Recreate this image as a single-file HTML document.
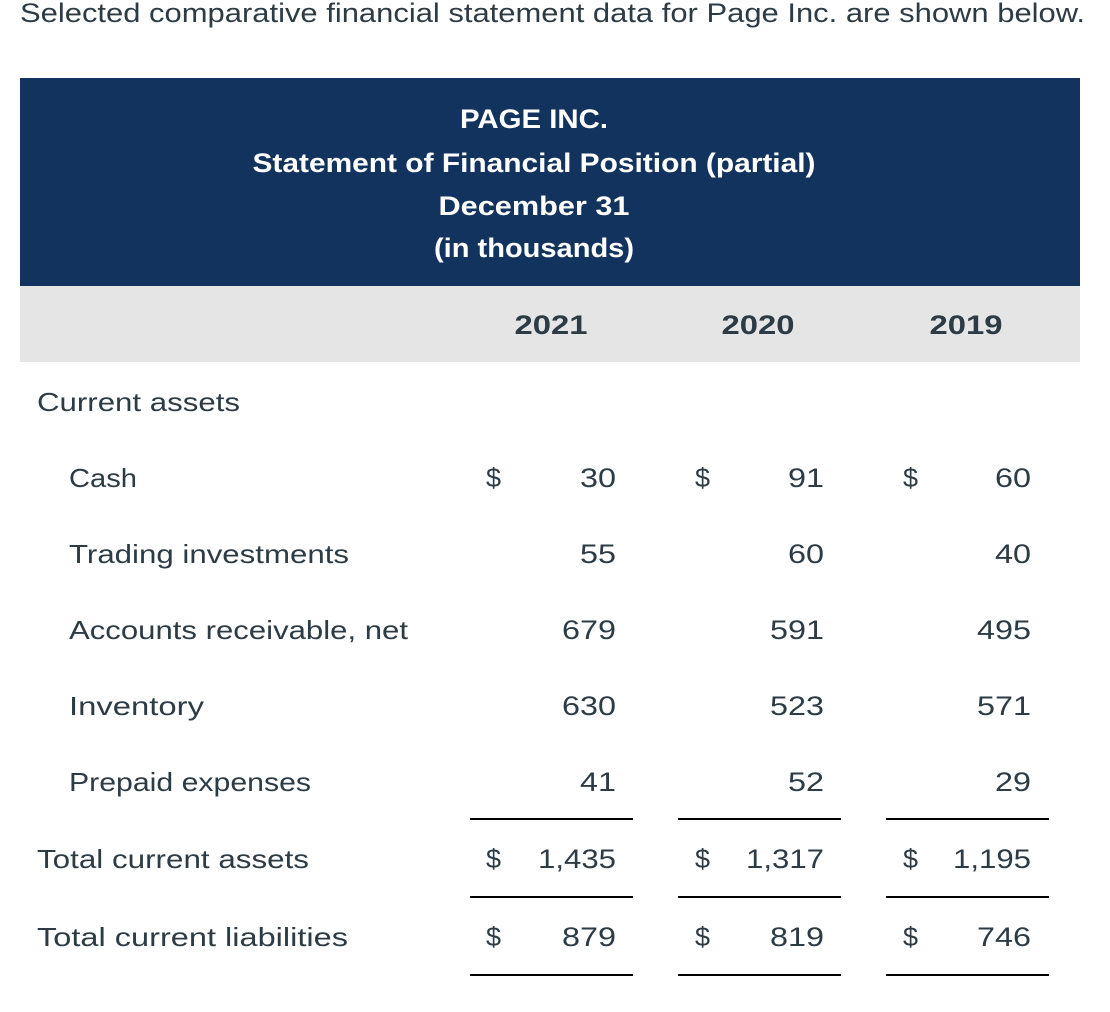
<!DOCTYPE html>
<html><head><meta charset="utf-8"><style>
html,body{margin:0;padding:0;background:#fff;}
svg{display:block;font-family:"Liberation Sans",sans-serif;}
</style></head><body>
<svg width="1110" height="1012" viewBox="0 0 1110 1012">
<text x="20" y="22" font-size="27" fill="#2d3b45" textLength="1065" lengthAdjust="spacingAndGlyphs">Selected comparative financial statement data for Page Inc. are shown below.</text>
<rect x="20" y="78" width="1060" height="208" fill="#13335f"/>
<g fill="#fff" font-size="27" font-weight="bold" text-anchor="middle">
<text x="534" y="128" textLength="148" lengthAdjust="spacingAndGlyphs">PAGE INC.</text>
<text x="534" y="172" textLength="563" lengthAdjust="spacingAndGlyphs">Statement of Financial Position (partial)</text>
<text x="534" y="215" textLength="191" lengthAdjust="spacingAndGlyphs">December 31</text>
<text x="534" y="257" textLength="200" lengthAdjust="spacingAndGlyphs">(in thousands)</text>
</g>
<rect x="20" y="286" width="1060" height="76" fill="#e5e5e5"/>
<g fill="#2d3b45" font-size="27" font-weight="bold" text-anchor="middle">
<text x="551" y="334" textLength="73" lengthAdjust="spacingAndGlyphs">2021</text>
<text x="758" y="334" textLength="73" lengthAdjust="spacingAndGlyphs">2020</text>
<text x="966" y="334" textLength="73" lengthAdjust="spacingAndGlyphs">2019</text>
</g>
<g fill="#2d3b45" font-size="26">
<text x="37" y="411" textLength="203" lengthAdjust="spacingAndGlyphs">Current assets</text>
<text x="69" y="487" textLength="68" lengthAdjust="spacingAndGlyphs">Cash</text>
<text x="69" y="563" textLength="280" lengthAdjust="spacingAndGlyphs">Trading investments</text>
<text x="69" y="639" textLength="339" lengthAdjust="spacingAndGlyphs">Accounts receivable, net</text>
<text x="69" y="715" textLength="135" lengthAdjust="spacingAndGlyphs">Inventory</text>
<text x="69" y="791" textLength="242" lengthAdjust="spacingAndGlyphs">Prepaid expenses</text>
<text x="37" y="868" textLength="272" lengthAdjust="spacingAndGlyphs">Total current assets</text>
<text x="37" y="946" textLength="311" lengthAdjust="spacingAndGlyphs">Total current liabilities</text>
</g>
<g fill="#2d3b45" font-size="27" text-anchor="end">
<text x="501" y="487">$</text>
<text x="710" y="487">$</text>
<text x="918" y="487">$</text>
<text x="501" y="868">$</text>
<text x="710" y="868">$</text>
<text x="918" y="868">$</text>
<text x="501" y="946">$</text>
<text x="710" y="946">$</text>
<text x="918" y="946">$</text>
</g>
<g fill="#2d3b45" font-size="27" text-anchor="end" lengthAdjust="spacingAndGlyphs">
<text x="616" y="487" textLength="36" lengthAdjust="spacingAndGlyphs">30</text>
<text x="616" y="563" textLength="36" lengthAdjust="spacingAndGlyphs">55</text>
<text x="616" y="639" textLength="54" lengthAdjust="spacingAndGlyphs">679</text>
<text x="616" y="715" textLength="54" lengthAdjust="spacingAndGlyphs">630</text>
<text x="616" y="791" textLength="36" lengthAdjust="spacingAndGlyphs">41</text>
<text x="616" y="868" textLength="78" lengthAdjust="spacingAndGlyphs">1,435</text>
<text x="616" y="946" textLength="54" lengthAdjust="spacingAndGlyphs">879</text>
<text x="824" y="487" textLength="36" lengthAdjust="spacingAndGlyphs">91</text>
<text x="824" y="563" textLength="36" lengthAdjust="spacingAndGlyphs">60</text>
<text x="824" y="639" textLength="54" lengthAdjust="spacingAndGlyphs">591</text>
<text x="824" y="715" textLength="54" lengthAdjust="spacingAndGlyphs">523</text>
<text x="824" y="791" textLength="36" lengthAdjust="spacingAndGlyphs">52</text>
<text x="824" y="868" textLength="78" lengthAdjust="spacingAndGlyphs">1,317</text>
<text x="824" y="946" textLength="54" lengthAdjust="spacingAndGlyphs">819</text>
<text x="1031" y="487" textLength="36" lengthAdjust="spacingAndGlyphs">60</text>
<text x="1031" y="563" textLength="36" lengthAdjust="spacingAndGlyphs">40</text>
<text x="1031" y="639" textLength="54" lengthAdjust="spacingAndGlyphs">495</text>
<text x="1031" y="715" textLength="54" lengthAdjust="spacingAndGlyphs">571</text>
<text x="1031" y="791" textLength="36" lengthAdjust="spacingAndGlyphs">29</text>
<text x="1031" y="868" textLength="78" lengthAdjust="spacingAndGlyphs">1,195</text>
<text x="1031" y="946" textLength="54" lengthAdjust="spacingAndGlyphs">746</text>
</g>
<g stroke="#000" stroke-width="2">
<line x1="470" y1="819" x2="633" y2="819"/>
<line x1="678" y1="819" x2="841" y2="819"/>
<line x1="886" y1="819" x2="1049" y2="819"/>
<line x1="470" y1="897" x2="633" y2="897"/>
<line x1="678" y1="897" x2="841" y2="897"/>
<line x1="886" y1="897" x2="1049" y2="897"/>
<line x1="470" y1="975" x2="633" y2="975"/>
<line x1="678" y1="975" x2="841" y2="975"/>
<line x1="886" y1="975" x2="1049" y2="975"/>
</g>
</svg>
</body></html>
